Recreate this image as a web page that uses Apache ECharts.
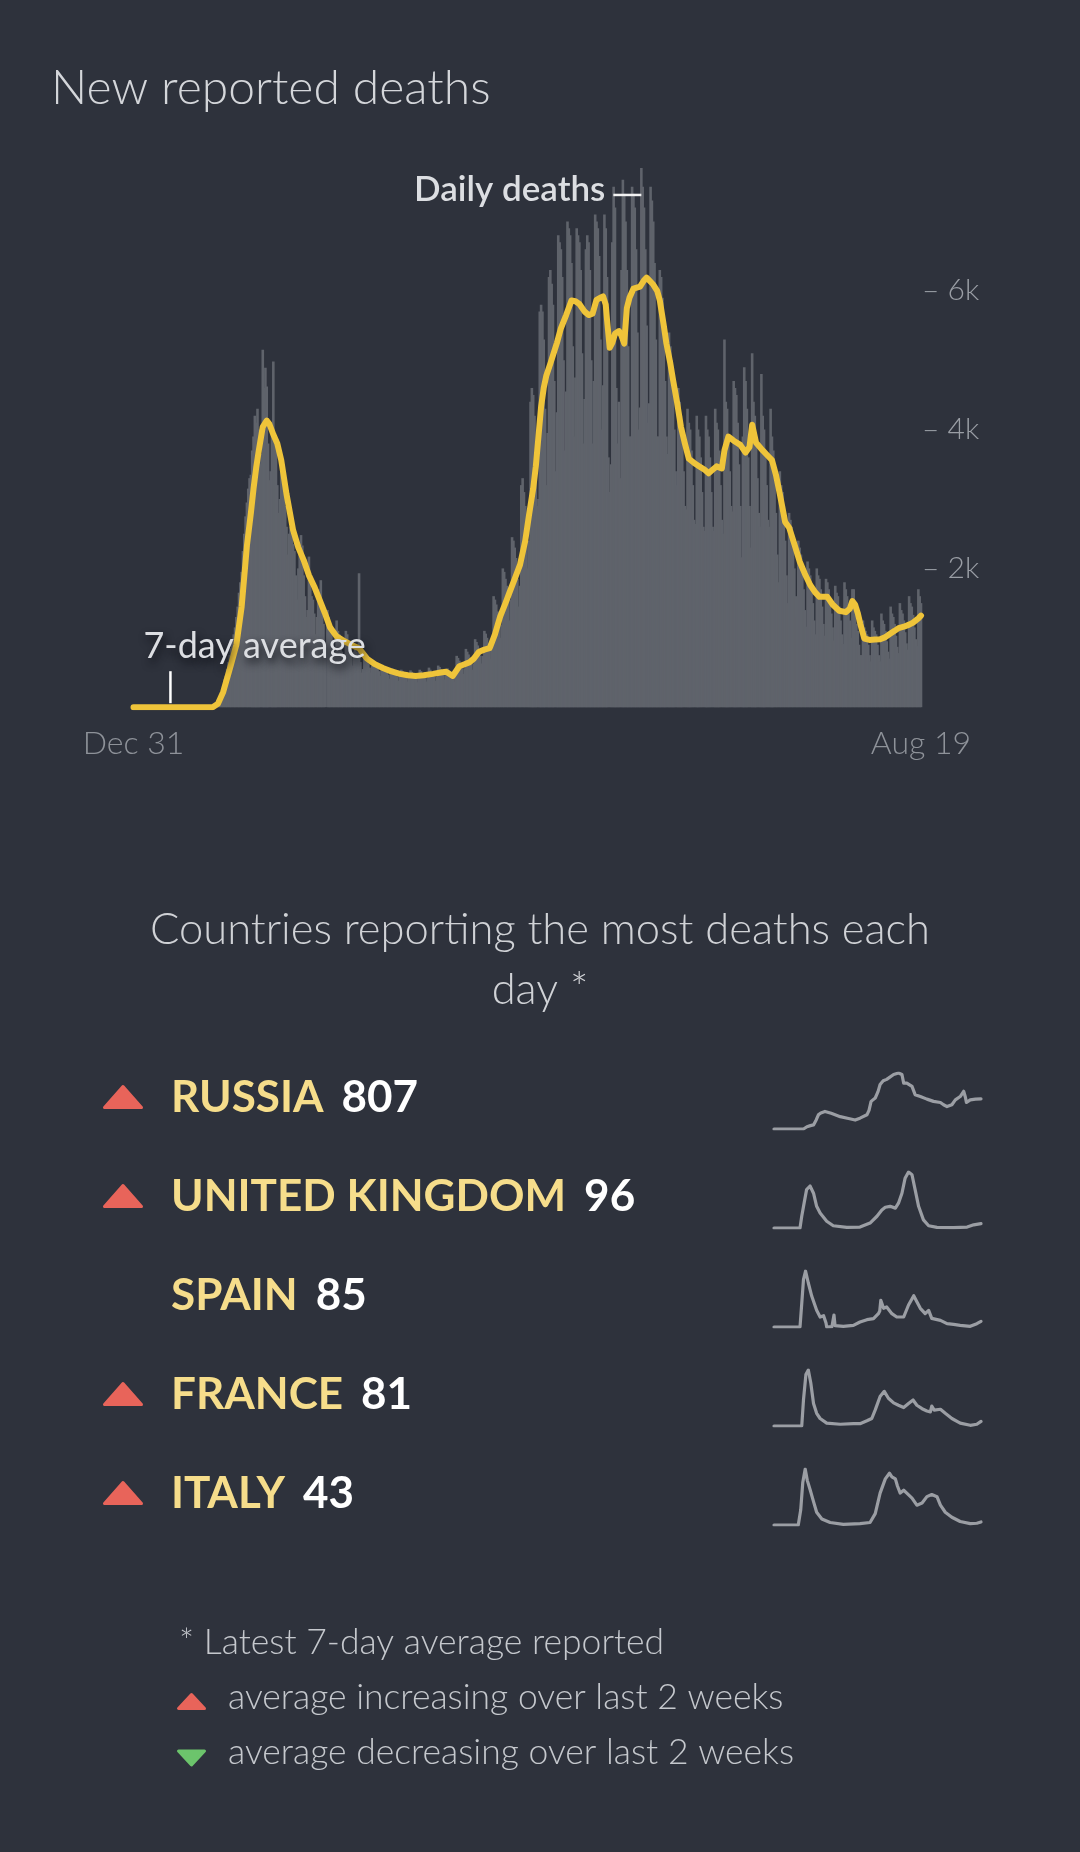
<!DOCTYPE html>
<html><head><meta charset="utf-8">
<script src="https://cdn.jsdelivr.net/npm/echarts@6/dist/echarts.min.js"></script>
<style>html,body{margin:0;padding:0;background:#2e323c;}#c{width:1080px;height:1852px;}</style>
</head><body><div id="c"></div>
<script>
// Daily reported deaths, Dec 31 2019 (day 0) .. Aug 19 2021 (day 597)
const dailyDeaths = [
0,0,0,0,0,0,0, 0,0,0,0,0,0,0, 0,0,0,0,0,0,0, 0,0,0,0,0,0,0, 0,0,0,0,0,0,0, 0,0,0,0,0,0,0, 0,0,0,0,0,0,0,
0,0,0,1,2,3,2,
5,7,6,9,6,12,8,
60,110,130,170,230,300,400,
450,550,650,750,850,950,1050,
1150,1300,1450,1650,1800,1950,2250,
2500,2750,2950,3150,3300,3350,3700,
3900,4200,4100,4300,4000,3500,3650,
5150,4600,4890,4620,3800,3270,3400,
4000,4980,3900,3700,3200,2800,3000,
3400,3300,3100,2900,2600,2200,2500,
2600,2500,2350,2250,1900,1550,2000,
2200,2480,2330,1900,1600,1300,1400,
2170,1800,1600,1550,1350,1050,1300,
1700,1500,1830,1400,1200,900,0,
1400,1300,1200,1100,900,700,800,
1250,1100,1050,950,800,650,700,
1100,1050,950,900,750,600,800,
850,800,750,1930,650,500,550,
740,700,660,630,570,500,600,
670,640,600,570,520,450,530,
610,580,550,520,470,410,480,
560,540,510,480,440,380,450,
540,520,490,460,420,370,430,
530,510,480,450,410,360,410,
540,520,490,460,420,370,420,
570,540,510,480,440,380,440,
600,580,550,510,460,400,470,
560,530,500,470,430,370,430,
740,710,670,620,560,480,560,
840,800,760,700,630,540,630,
980,940,890,820,740,630,740,
1100,1060,1000,920,830,700,830,
1600,1550,1480,1380,1250,1000,1190,
2000,1950,1850,1750,1550,1250,1550,
2450,2400,2300,2150,1850,1450,1750,
3200,3300,3100,2900,2600,2000,2400,
4400,4600,4500,4200,3700,2900,3000,
5700,5800,5700,5300,4300,3200,3950,
6200,6300,6100,5800,4700,3400,4250,
6800,6700,6600,6200,5000,3700,4550,
7000,6900,6800,6400,5200,3900,4750,
6900,6800,6700,6300,5100,3800,4440,
6600,6800,6700,6300,5000,3800,4700,
7100,7000,6900,6500,5300,4000,4640,
7100,6900,6200,3600,3100,3500,6700,
7500,7200,4600,3800,4400,3300,6300,
7600,7400,7000,6300,5200,3900,3900,
7500,7400,7200,6600,5400,4000,4320,
7770,7500,7200,6600,5500,4100,4380,
7500,7300,7000,6400,5300,3900,3900,
6300,6200,5900,5400,4700,3900,3650,
5400,5200,5000,4600,4000,3400,3200,
4600,4400,4200,3900,3400,2900,2850,
4300,4100,4000,3700,3200,2700,2640,
4200,4000,3900,3600,3100,2600,2540,
4200,4000,3900,3600,3100,2600,2540,
4300,4100,4000,3700,3200,2700,2500,
5300,4400,4300,3900,3400,2900,2820,
4700,4600,4500,4100,3500,2900,2160,
3900,4900,4700,4300,3600,2900,2300,
5100,4400,4200,3900,3300,2800,2600,
4800,4200,4000,3700,3200,2700,2600,
4300,3900,3700,3400,2800,2200,1800,
3400,3200,3100,2900,2400,1900,1500,
2800,2700,2600,2400,2000,1600,1300,
2400,2300,2200,2000,1700,1400,1160,
2100,2000,1900,1750,1500,1250,1050,
2000,1900,1850,1700,1450,1200,1030,
1850,1800,1700,1550,1350,1150,960,
1750,1650,1600,1450,1250,1050,910,
1800,1700,1600,1450,1250,1000,1700,
1700,1500,1200,1100,900,750,750,
1250,1150,1100,1050,900,750,660,
1250,1150,1100,1050,900,750,660,
1350,1250,1200,1100,950,800,700,
1450,1350,1300,1200,1030,870,780,
1500,1400,1350,1250,1080,920,830,
1600,1500,1450,1330,1150,980,880,
1700,1600,1500
];

// 7-day average readings [day, deaths]
const avgDeaths = [[0,0],[60,0],[64,50],[68,220],[74,620],[78,900],[82,1450],[86,2330],[89,2800],[91,3150],[93,3450],[95,3700],[98,4040],[101,4130],[103,4080],[106,3930],[109,3800],[112,3560],[116,3070],[121,2550],[125,2300],[129,2120],[133,1900],[137,1740],[141,1550],[145,1360],[149,1150],[154,1020],[160,950],[166,890],[171,850],[177,700],[183,620],[189,565],[195,520],[202,480],[208,460],[214,450],[220,460],[227,480],[233,500],[237,510],[242,450],[247,590],[251,620],[255,650],[258,700],[262,800],[266,830],[270,850],[274,1050],[278,1310],[282,1500],[285,1650],[289,1850],[293,2050],[297,2400],[300,2790],[303,3150],[305,3470],[307,3900],[309,4330],[311,4600],[313,4780],[316,4950],[318,5070],[321,5250],[324,5460],[328,5650],[332,5860],[335,5850],[338,5810],[342,5700],[345,5650],[348,5670],[351,5870],[354,5900],[356,5920],[358,5800],[359,5580],[361,5180],[363,5250],[365,5380],[368,5420],[370,5350],[372,5240],[374,5750],[376,5900],[379,6030],[384,6060],[387,6150],[389,6190],[391,6150],[394,6090],[397,6000],[399,5860],[402,5500],[404,5240],[407,4950],[409,4720],[412,4400],[415,4040],[418,3800],[421,3580],[425,3520],[429,3470],[433,3420],[436,3370],[439,3420],[442,3470],[446,3440],[448,3700],[451,3900],[455,3840],[460,3780],[464,3670],[467,3750],[469,4070],[472,3810],[477,3700],[481,3620],[484,3560],[487,3350],[490,3070],[494,2670],[497,2590],[501,2350],[505,2100],[509,1920],[513,1760],[517,1650],[520,1590],[523,1590],[526,1590],[530,1480],[535,1390],[540,1370],[543,1420],[545,1530],[547,1480],[549,1360],[551,1200],[554,990],[558,970],[562,975],[566,980],[570,1010],[573,1050],[577,1100],[580,1140],[584,1160],[588,1190],[591,1220],[595,1280],[597,1320]];

const xTickDays = [0, 597];
const xTickLabels = ['Dec 31', 'Aug 19'];
const yTickValues = [2000, 4000, 6000];
const yTickLabels = ['2k', '4k', '6k'];

const countries = ['RUSSIA', 'UNITED KINGDOM', 'SPAIN', 'FRANCE', 'ITALY'];
const latestAvg = [807, 96, 85, 81, 43];
const trend = ['up', 'up', 'none', 'up', 'up'];

const sparkRussia = [[0,0],[85,0],[95,60],[105,90],[114,110],[122,250],[128,380],[135,430],[147,470],[165,420],[191,330],[215,280],[234,240],[248,290],[268,380],[274,500],[280,740],[292,830],[300,1000],[306,1190],[315,1290],[325,1330],[345,1460],[359,1500],[369,1460],[374,1230],[383,1230],[388,1280],[398,1140],[407,920],[422,870],[441,800],[460,740],[480,710],[489,650],[499,600],[513,650],[523,780],[537,870],[547,1010],[552,850],[555,710],[566,780],[581,800],[597,807]];
const sparkUK = [[0,0],[75,0],[80,260],[88,600],[94,850],[104,930],[114,770],[123,480],[133,330],[152,150],[171,50],[210,15],[248,20],[277,110],[297,260],[311,400],[321,460],[335,480],[350,440],[359,550],[369,770],[378,1100],[388,1240],[398,1180],[407,850],[417,480],[431,180],[446,50],[470,15],[518,8],[557,20],[576,70],[597,96]];
const sparkSpain = [[0,0],[75,0],[80,350],[85,710],[91,840],[99,660],[109,460],[123,250],[133,150],[143,170],[150,60],[152,0],[167,5],[171,10],[173,180],[176,20],[200,10],[229,25],[248,75],[268,110],[287,125],[301,200],[305,240],[308,400],[316,280],[325,300],[340,200],[354,150],[374,150],[388,330],[403,470],[412,380],[422,280],[436,200],[446,250],[455,130],[480,100],[499,50],[518,40],[537,25],[566,10],[585,50],[597,85]];
const sparkFrance = [[0,0],[80,0],[85,450],[92,890],[99,970],[106,750],[114,390],[123,220],[133,130],[152,50],[191,30],[229,40],[248,40],[268,90],[282,130],[292,280],[306,510],[318,600],[330,480],[345,400],[359,360],[374,320],[388,390],[401,450],[412,360],[427,300],[441,260],[451,245],[455,345],[462,275],[480,290],[494,220],[513,130],[537,50],[566,12],[585,30],[597,81]];
const sparkItaly = [[0,0],[70,0],[77,210],[83,600],[90,790],[96,630],[104,500],[114,330],[123,180],[138,85],[162,35],[200,10],[248,20],[277,35],[292,160],[306,450],[321,650],[333,730],[340,680],[350,650],[356,550],[364,450],[374,490],[383,450],[398,380],[412,280],[427,310],[441,400],[455,430],[470,400],[480,280],[494,180],[513,110],[537,50],[566,20],[585,25],[597,43]];
const sparks = [sparkRussia, sparkUK, sparkSpain, sparkFrance, sparkItaly];

const FONT = 'Lato, "Noto Sans", sans-serif';
const BG = '#2e323c';
const chart = echarts.init(document.getElementById('c'), null, {renderer: 'canvas', width: 1080, height: 1852});

const lastDay = dailyDeaths.length - 1;
const rowY = [1097, 1196, 1295, 1394, 1493];

const grids = [{left: 133.5, right: 159, top: 152, height: 555.2}];
const xAxes = [{
  gridIndex: 0, type: 'value', min: 0, max: lastDay,
  axisLine: {show: false}, axisTick: {show: false}, splitLine: {show: false},
  axisLabel: {
    customValues: xTickDays, margin: 20, color: '#8e9299',
    fontFamily: FONT, fontWeight: 300, fontSize: 32,
    formatter: v => xTickLabels[xTickDays.indexOf(v)] || ''
  }
}];
const yAxes = [{
  gridIndex: 0, type: 'value', min: 0, max: 8000, interval: 2000, position: 'right',
  axisLine: {show: false}, axisTick: {show: false}, splitLine: {show: false},
  axisLabel: {
    margin: 1, color: '#9a9ea5', fontFamily: FONT, fontWeight: 300, fontSize: 30,
    formatter: v => { const i = yTickValues.indexOf(v); return i >= 0 ? '\u2013 ' + yTickLabels[i] : ''; }
  }
}];
const series = [
  {
    type: 'bar', xAxisIndex: 0, yAxisIndex: 0, barWidth: 2.6,
    data: dailyDeaths.map((v, i) => [i, v]),
    itemStyle: {color: '#5f636b'}, silent: true, z: 2
  },
  {
    type: 'line', xAxisIndex: 0, yAxisIndex: 0, data: avgDeaths,
    showSymbol: false, symbol: 'none', smooth: false,
    lineStyle: {color: '#efc43a', width: 6, join: 'round', cap: 'round'}, z: 5, silent: true
  }
];
sparks.forEach((d, i) => {
  grids.push({left: 774, right: 99, top: rowY[i] - 24, height: 56});
  xAxes.push({gridIndex: i + 1, type: 'value', min: 0, max: lastDay, show: false});
  yAxes.push({gridIndex: i + 1, type: 'value', min: 0, max: 'dataMax', show: false});
  series.push({
    type: 'line', xAxisIndex: i + 1, yAxisIndex: i + 1, data: d,
    showSymbol: false, symbol: 'none', smooth: false,
    lineStyle: {color: '#9b9ea4', width: 3.2, join: 'round', cap: 'round'}, silent: true
  });
});

chart.setOption({
  backgroundColor: BG, animation: false,
  grid: grids, xAxis: xAxes, yAxis: yAxes, series: series
});

const maxVal = Math.max(...dailyDeaths);
const maxDay = dailyDeaths.indexOf(maxVal);
const [mx, my] = chart.convertToPixel({gridIndex: 0}, [maxDay, maxVal]);
const annotDay = 28;
const [ax, ay] = chart.convertToPixel({gridIndex: 0}, [annotDay, 0]);

const g = [];
g.push({type: 'text', x: 51, y: 89, z: 100, style: {text: 'New reported deaths', font: `300 48px ${FONT}`, fill: '#d4d6da', align: 'left', verticalAlign: 'middle'}});
g.push({type: 'line', z: 100, shape: {x1: mx - 28, y1: my + 27, x2: mx, y2: my + 27}, style: {stroke: '#f2f2f2', lineWidth: 2.5}});
g.push({type: 'text', x: mx - 36, y: my + 22, z: 100, style: {text: 'Daily deaths', font: `600 35px ${FONT}`, fill: '#dcdee2', align: 'right', verticalAlign: 'middle'}});
g.push({type: 'line', z: 100, shape: {x1: ax, y1: ay - 4, x2: ax, y2: ay - 36}, style: {stroke: '#ffffff', lineWidth: 2.5}});
g.push({type: 'text', x: ax - 27, y: ay - 61, z: 100, style: {text: '7-day average', font: `400 36px ${FONT}`, fill: '#dcdee2', align: 'left', verticalAlign: 'middle', textShadowColor: 'rgba(14,16,22,0.95)', textShadowBlur: 9, textShadowOffsetX: 2, textShadowOffsetY: 5}});

g.push({type: 'text', x: 540, y: 960, z: 100, style: {text: 'Countries reporting the most deaths each\nday *', font: `300 43.5px ${FONT}`, fill: '#d0d2d6', align: 'center', verticalAlign: 'middle', lineHeight: 60}});

countries.forEach((name, i) => {
  const cy = rowY[i];
  if (trend[i] === 'up') {
    g.push({type: 'polygon', z: 100, shape: {points: [[123 - 18.5, cy + 10.5], [123 + 18.5, cy + 10.5], [123, cy - 10.5]]}, style: {fill: '#e8645a', stroke: '#e8645a', lineWidth: 3, lineJoin: 'round'}});
  } else if (trend[i] === 'down') {
    g.push({type: 'polygon', z: 100, shape: {points: [[123 - 18.5, cy - 10.5], [123 + 18.5, cy - 10.5], [123, cy + 10.5]]}, style: {fill: '#6cc46c', stroke: '#6cc46c', lineWidth: 3, lineJoin: 'round'}});
  }
  g.push({type: 'text', x: 171, y: cy + 1, z: 100, style: {
    text: `{n|${name}}{v|${latestAvg[i]}}`, align: 'left', verticalAlign: 'middle',
    rich: {
      n: {fontFamily: FONT, fontWeight: 700, fontSize: 44, fill: '#f6dd8b'},
      v: {fontFamily: FONT, fontWeight: 700, fontSize: 44, fill: '#ffffff', padding: [0, 0, 0, 18]}
    }
  }});
});

g.push({type: 'text', x: 179, y: 1643, z: 100, style: {text: '* Latest 7-day average reported', font: `300 35.5px ${FONT}`, fill: '#c5c8cd', align: 'left', verticalAlign: 'middle'}});
g.push({type: 'polygon', z: 100, shape: {points: [[191.5 - 13, 1701.5 + 7], [191.5 + 13, 1701.5 + 7], [191.5, 1701.5 - 7]]}, style: {fill: '#e8645a', stroke: '#e8645a', lineWidth: 3, lineJoin: 'round'}});
g.push({type: 'text', x: 228, y: 1698, z: 100, style: {text: 'average increasing over last 2 weeks', font: `300 35.5px ${FONT}`, fill: '#c5c8cd', align: 'left', verticalAlign: 'middle'}});
g.push({type: 'polygon', z: 100, shape: {points: [[191.5 - 13, 1758 - 7], [191.5 + 13, 1758 - 7], [191.5, 1758 + 7]]}, style: {fill: '#6cc46c', stroke: '#6cc46c', lineWidth: 3, lineJoin: 'round'}});
g.push({type: 'text', x: 228, y: 1753, z: 100, style: {text: 'average decreasing over last 2 weeks', font: `300 35.5px ${FONT}`, fill: '#c5c8cd', align: 'left', verticalAlign: 'middle'}});

chart.setOption({graphic: g});
</script></body></html>
